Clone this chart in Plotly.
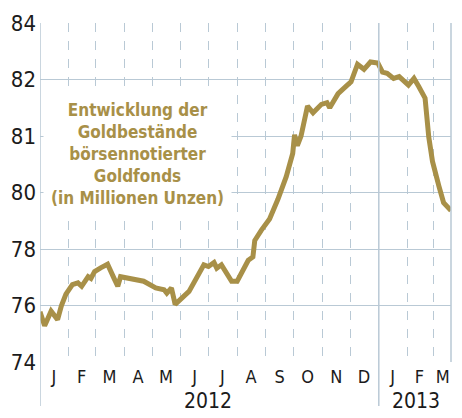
import plotly.graph_objects as go

# Goldbestände börsennotierter Goldfonds, Werte in Rasterstufen (0 = 74 ... 6 = 84)
dates = [
    "2012-01-01", "2012-01-06", "2012-01-13", "2012-01-20", "2012-01-24", "2012-01-29",
    "2012-02-05", "2012-02-11", "2012-02-15", "2012-02-22", "2012-02-25", "2012-02-29",
    "2012-03-07", "2012-03-14", "2012-03-21", "2012-03-25", "2012-03-28", "2012-04-06",
    "2012-04-17", "2012-04-22", "2012-05-05", "2012-05-14", "2012-05-17", "2012-05-22",
    "2012-05-26", "2012-06-01", "2012-06-10", "2012-06-26", "2012-07-01", "2012-07-07",
    "2012-07-10", "2012-07-15", "2012-07-26", "2012-08-01", "2012-08-13", "2012-08-18",
    "2012-08-20", "2012-08-27", "2012-09-05", "2012-09-14", "2012-09-23", "2012-09-30",
    "2012-10-02", "2012-10-05", "2012-10-09", "2012-10-16", "2012-10-22", "2012-10-31",
    "2012-11-06", "2012-11-09", "2012-11-18", "2012-11-28", "2012-12-02", "2012-12-09",
    "2012-12-16", "2012-12-23", "2012-12-31", "2013-01-05", "2013-01-10", "2013-01-17",
    "2013-01-23", "2013-02-02", "2013-02-08", "2013-02-13", "2013-02-20", "2013-02-24",
    "2013-02-28", "2013-03-07", "2013-03-12", "2013-03-20",
]
holdings = [
    0.89, 0.64, 0.90, 0.75, 0.99, 1.20,
    1.37, 1.40, 1.34, 1.51, 1.48, 1.60,
    1.67, 1.73, 1.48, 1.34, 1.51, 1.48,
    1.44, 1.43, 1.31, 1.28, 1.22, 1.31,
    1.02, 1.11, 1.25, 1.72, 1.69, 1.76,
    1.66, 1.72, 1.43, 1.43, 1.80, 1.86,
    2.15, 2.33, 2.53, 2.88, 3.28, 3.69,
    4.02, 3.83, 4.00, 4.53, 4.41, 4.56,
    4.59, 4.50, 4.75, 4.90, 4.96, 5.27,
    5.18, 5.31, 5.29, 5.13, 5.11, 5.02,
    5.05, 4.90, 5.02, 4.88, 4.67, 3.98,
    3.55, 3.11, 2.82, 2.68,
]

y_tickvals = [0, 1, 2, 3, 4, 5, 6]
y_ticktext = ["74", "76", "78", "80", "81", "82", "84"]

month_starts = [
    "2012-02-01", "2012-03-01", "2012-04-01", "2012-05-01", "2012-06-01", "2012-07-01",
    "2012-08-01", "2012-09-01", "2012-10-01", "2012-11-01", "2012-12-01",
    "2013-02-01", "2013-03-01",
]
month_mids = [
    "2012-01-16", "2012-02-15", "2012-03-16", "2012-04-16", "2012-05-16", "2012-06-16",
    "2012-07-16", "2012-08-16", "2012-09-16", "2012-10-16", "2012-11-16", "2012-12-16",
    "2013-01-16", "2013-02-14", "2013-03-11",
]
month_letters = ["J", "F", "M", "A", "M", "J", "J", "A", "S", "O", "N", "D", "J", "F", "M"]

GOLD = "#a89048"
GRID = "#b9c9d5"
FONT = "Liberation Sans Narrow, DejaVu Sans Condensed, sans-serif"

fig = go.Figure()
fig.add_trace(go.Scatter(
    x=dates, y=holdings, mode="lines",
    line=dict(color=GOLD, width=5),
    hoverinfo="skip",
))

fig.update_layout(
    width=462, height=418,
    margin=dict(l=37, r=11, t=17, b=56),
    paper_bgcolor="white", plot_bgcolor="white",
    showlegend=False,
    font=dict(family=FONT, color="#1b1b1b"),
)
fig.update_xaxes(
    type="date", range=["2012-01-01", "2013-03-20"],
    tickmode="array", tickvals=month_mids, ticktext=month_letters,
    tickfont=dict(size=18), ticks="", showgrid=False, zeroline=False,
    showline=False, ticklabelstandoff=2,
    minor=dict(tickmode="array", tickvals=month_starts, showgrid=True,
               gridcolor=GRID, griddash="dash", gridwidth=1.1, ticks=""),
)
fig.update_yaxes(
    range=[0, 6], tickmode="array", tickvals=y_tickvals, ticktext=y_ticktext,
    tickfont=dict(size=22), showgrid=True, gridcolor=GRID, gridwidth=1.2,
    zeroline=False, showline=False, ticks="", ticklabelstandoff=3,
)

# Achsenlinie links, Jahreswechsel, rechter Rand
fig.add_shape(type="line", xref="x", yref="paper", x0="2012-01-01", x1="2012-01-01",
              y0=-0.13, y1=1, line=dict(color=GRID, width=1.5))
fig.add_shape(type="line", xref="x", yref="paper", x0="2013-01-01", x1="2013-01-01",
              y0=-0.13, y1=1, line=dict(color=GRID, width=1.5))
fig.add_shape(type="line", xref="paper", yref="paper", x0=1, x1=1,
              y0=0, y1=1, line=dict(color=GRID, width=1.5))

fig.add_annotation(x="2012-07-01", y=-0.115, xref="x", yref="paper", text="2012",
                   showarrow=False, font=dict(size=21), yanchor="middle")
fig.add_annotation(x="2013-02-10", y=-0.115, xref="x", yref="paper", text="2013",
                   showarrow=False, font=dict(size=21), yanchor="middle")

fig.add_annotation(
    x="2012-04-15", y=3.68, xref="x", yref="y",
    text="<b>Entwicklung der<br>Goldbestände<br>börsennotierter<br>Goldfonds<br>(in Millionen Unzen)</b>",
    showarrow=False, align="center", bgcolor="white", borderpad=7,
    font=dict(size=17, color=GOLD, family=FONT),
)

fig.write_html("out.html", config={"displayModeBar": False},
               post_script="document.body.style.margin='0';")
